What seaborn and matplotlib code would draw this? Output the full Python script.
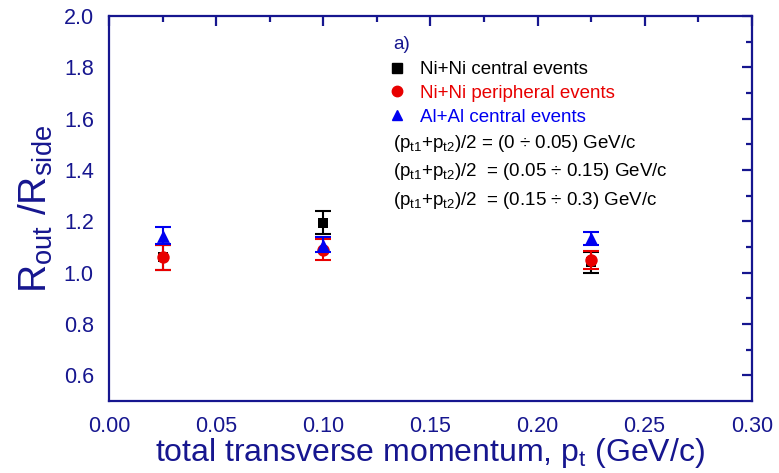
import numpy as np
import pandas as pd
import matplotlib
matplotlib.use("Agg")
import matplotlib.pyplot as plt
import seaborn as sns

# Mean transverse momentum of the pair bins (GeV/c)
pt = [0.025, 0.1, 0.225]

# R_out / R_side ratio and errors for each system
ni_central = [1.06, 1.195, 1.04]
ni_central_err = [0.05, 0.045, 0.04]
ni_peripheral = [1.06, 1.09, 1.05]
ni_peripheral_err = [0.05, 0.04, 0.035]
al_central = [1.145, 1.11, 1.135]
al_central_err = [0.033, 0.03, 0.025]

series_names = ["Ni+Ni central events", "Ni+Ni peripheral events", "Al+Al central events"]
bin_labels = [
    r"(p$_{\mathregular{t1}}$+p$_{\mathregular{t2}}$)/2 = (0 ÷ 0.05) GeV/c",
    r"(p$_{\mathregular{t1}}$+p$_{\mathregular{t2}}$)/2  = (0.05 ÷ 0.15) GeV/c",
    r"(p$_{\mathregular{t1}}$+p$_{\mathregular{t2}}$)/2  = (0.15 ÷ 0.3) GeV/c",
]
x_ticks = [0.00, 0.05, 0.10, 0.15, 0.20, 0.25, 0.30]
x_minor = [0.025, 0.075, 0.125, 0.175, 0.225, 0.275]
y_ticks = [0.6, 0.8, 1.0, 1.2, 1.4, 1.6, 1.8, 2.0]
y_minor = [0.7, 0.9, 1.1, 1.3, 1.5, 1.7, 1.9]

sns.set_theme(style="white")
plt.rcParams["font.family"] = ["Liberation Sans", "DejaVu Sans"]
plt.rcParams["mathtext.fontset"] = "custom"
plt.rcParams["mathtext.rm"] = "Liberation Sans"
plt.rcParams["mathtext.it"] = "Liberation Sans"
plt.rcParams["mathtext.default"] = "regular"

NAVY = "#16168f"
colors = ["#000000", "#e80000", "#0000f0"]
markers = ["s", "o", "^"]
sizes = [60, 80, 85]

frames = []
for name, vals, errs in [
    (series_names[0], ni_central, ni_central_err),
    (series_names[1], ni_peripheral, ni_peripheral_err),
    (series_names[2], al_central, al_central_err),
]:
    frames.append(pd.DataFrame({"pt": pt, "ratio": vals, "err": errs, "system": name}))
df = pd.concat(frames, ignore_index=True)

fig = plt.figure(figsize=(7.79, 4.73), dpi=100)
ax = fig.add_axes([0.140, 0.152, 0.825, 0.814])

handles = []
for i, name in enumerate(series_names):
    sub = df[df["system"] == name]
    ax.errorbar(sub["pt"], sub["ratio"], yerr=sub["err"], fmt="none",
                ecolor=colors[i], elinewidth=1.5, capsize=6, capthick=1.5,
                zorder=2 + i)
    sns.scatterplot(data=sub, x="pt", y="ratio", ax=ax, color=colors[i],
                    marker=markers[i], s=sizes[i], edgecolor=colors[i],
                    linewidth=0, zorder=3 + i, legend=False)
    handles.append(plt.Line2D([], [], linestyle="none", marker=markers[i],
                              color=colors[i], markersize=7.5))

ax.set_xlim(0.0, 0.30)
ax.set_ylim(0.5, 2.0)
ax.set_xticks(x_ticks)
ax.set_xticklabels([f"{v:.2f}" for v in x_ticks])
ax.set_xticks(x_minor, minor=True)
ax.set_yticks(y_ticks)
ax.set_yticklabels([f"{v:.1f}" for v in y_ticks])
ax.set_yticks(y_minor, minor=True)

for sp in ax.spines.values():
    sp.set_color(NAVY)
    sp.set_linewidth(1.6)

ax.tick_params(axis="both", which="major", direction="out", length=7, width=1.6,
               color=NAVY, labelcolor=NAVY, labelsize=15.5, pad=4)
ax.tick_params(axis="both", which="minor", direction="out", length=4, width=1.6,
               color=NAVY)
# mirrored inward ticks on the top and right spines
ax_top = ax.secondary_xaxis("top")
ax_top.set_xticks(x_ticks)
ax_top.set_xticks(x_minor, minor=True)
ax_top.tick_params(which="major", direction="in", length=7, width=1.6, color=NAVY,
                   labeltop=False)
ax_top.tick_params(which="minor", direction="in", length=4, width=1.6, color=NAVY)
ax_top.spines["top"].set_visible(False)
ax_right = ax.secondary_yaxis("right")
ax_right.set_yticks(y_ticks)
ax_right.set_yticks(y_minor, minor=True)
ax_right.tick_params(which="major", direction="in", length=7, width=1.6, color=NAVY,
                     labelright=False)
ax_right.tick_params(which="minor", direction="in", length=4, width=1.6, color=NAVY)
ax_right.spines["right"].set_visible(False)

ax.set_xlabel(r"total transverse momentum, p$_{\mathregular{t}}$ (GeV/c)",
              color=NAVY, fontsize=23, labelpad=-1)
ax.set_ylabel(r"R$_{\mathregular{out}}$ /R$_{\mathregular{side}}$",
              color=NAVY, fontsize=28, labelpad=6)

ax.text(0.442, 0.925, "a)", transform=ax.transAxes, color=NAVY, fontsize=13.5,
        va="center", ha="left")

leg = ax.legend(handles, series_names, loc="upper left",
                bbox_to_anchor=(0.437, 0.883), frameon=False, fontsize=13.5,
                handlelength=0.8, handletextpad=0.8, labelspacing=0.35,
                borderaxespad=0, borderpad=0)
for txt, c in zip(leg.get_texts(), colors):
    txt.set_color(c)

for k, lab in enumerate(bin_labels):
    ax.text(0.442, 0.670 - k * 0.074, lab, transform=ax.transAxes,
            color="black", fontsize=13.5, va="center", ha="left")

fig.savefig("out.png", dpi=100)
